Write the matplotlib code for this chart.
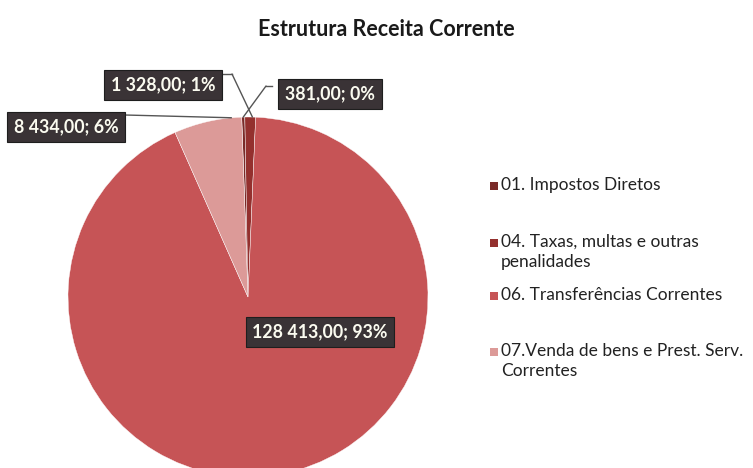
import numpy as np
import matplotlib.pyplot as plt
from matplotlib.patches import Rectangle
from matplotlib.lines import Line2D

categories = ["01. Impostos Diretos",
              "04. Taxas, multas e outras\npenalidades",
              "06. Transferências Correntes",
              "07.Venda de bens e Prest. Serv.\nCorrentes"]
values = [381.00, 1328.00, 128413.00, 8434.00]
percents = ["0%", "1%", "93%", "6%"]
value_labels = ["381,00", "1 328,00", "128 413,00", "8 434,00"]
colors = ["#7a2a28", "#94302e", "#c65456", "#dc9a98"]

plt.rcParams['font.family'] = ['Lato', 'DejaVu Sans']

W, H = 753, 468
fig = plt.figure(figsize=(W / 100, H / 100), dpi=100)
fig.patch.set_facecolor("white")

# pie axes: centre (248, 297) px, radius 180 px
cx, cy, r = 248, 297, 180
ax = fig.add_axes([(cx - r) / W, (H - cy - r) / H, 2 * r / W, 2 * r / H])
wedges, _ = ax.pie(values, colors=colors, startangle=92, counterclock=False,
                   radius=1, wedgeprops=dict(edgecolor="white", linewidth=0.3))
ax.set_xlim(-1, 1)
ax.set_ylim(-1, 1)
ax.set_aspect("equal")
ax.axis("off")

fig.text(386 / W, 1 - 30 / H, "Estrutura Receita Corrente", ha="center", va="center",
         fontsize=15.5, fontweight="bold", color="#1a1a1a")

box = dict(boxstyle="square,pad=0.38", facecolor="#3a3336", edgecolor="#1e1e1e", linewidth=0.8)

# label centres in figure pixels (from top); leader: box edge -> elbow -> slice
label_pos = {0: (330, 94), 1: (163, 85), 2: (320, 332), 3: (66, 127)}
line_from = {0: (272, 86), 1: (222, 74), 3: (125, 115)}
elbow = {0: (266, 86), 1: (232, 74), 3: (125, 115)}
line_frac = {0: 0.5, 1: 0.3, 3: 0.15}

def figpx(x, y):
    return (x / W, 1 - y / H)

for i, w in enumerate(wedges):
    txt = f"{value_labels[i]}; {percents[i]}"
    lx, ly = label_pos[i]
    if i in line_from:
        ang = np.deg2rad(w.theta1 + (w.theta2 - w.theta1) * line_frac[i])
        px, py = np.cos(ang), np.sin(ang)
        (sx, sy), (ex, ey) = line_from[i], elbow[i]
        fig.lines.append(Line2D([sx / W, ex / W], [1 - sy / H, 1 - ey / H],
                                transform=fig.transFigure, color="#555555", lw=1.0))
        ax.annotate("", xy=(px, py), xycoords="data",
                    xytext=(ex, H - ey), textcoords="figure pixels",
                    arrowprops=dict(arrowstyle="-", color="#555555", lw=1.0,
                                    shrinkA=0, shrinkB=0))
    fig.text(*figpx(lx, ly), txt, ha="center", va="center", fontsize=12.8,
             fontweight="bold", color="#fbfbf0", bbox=box)

# legend
leg_y = [186, 243, 296, 352]
for i, lab in enumerate(categories):
    y = leg_y[i]
    fig.patches.append(Rectangle((490 / W, 1 - (y + 4) / H), 8 / W, 8 / H,
                                 transform=fig.transFigure, facecolor=colors[i],
                                 edgecolor="none"))
    fig.text(501 / W, 1 - (y - 9) / H, lab, ha="left", va="top", fontsize=12.5,
             color="#222222", linespacing=1.27)

fig.savefig("out.png", dpi=100)
